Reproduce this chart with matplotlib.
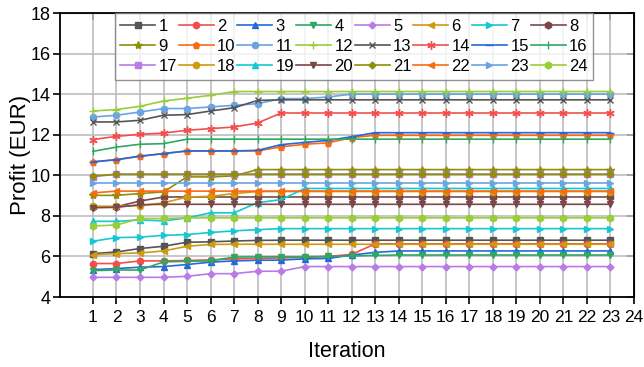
import matplotlib
matplotlib.use("Agg")
import matplotlib.pyplot as plt

plt.rcParams['font.family'] = ['Liberation Sans', 'DejaVu Sans']

iterations = list(range(1, 24))

s1 = [6.14, 6.22, 6.39, 6.5, 6.7, 6.72, 6.76, 6.79] + [6.8] * 15
s2 = [5.65, 5.65, 5.78, 5.78, 5.8, 5.83, 5.88, 5.9, 5.93, 5.95, 6.0, 6.1] + [6.62] * 11
s3 = [5.35, 5.4, 5.47, 5.5, 5.6, 5.72, 5.78, 5.81, 5.82, 5.88, 5.9, 6.07, 6.2] + [6.27] * 10
s4 = [5.3, 5.33, 5.33, 5.73, 5.76, 5.78, 5.97, 5.98, 5.98, 5.98, 6.0, 6.02, 6.05] + [6.07] * 10
s5 = [4.97, 4.97, 4.97, 4.97, 5.02, 5.15, 5.15, 5.27, 5.27] + [5.5] * 14
s6 = [6.09, 6.14, 6.17, 6.27, 6.5, 6.59] + [6.6] * 17
s7 = [6.75, 6.93, 6.95, 7.04, 7.08, 7.18, 7.26, 7.32] + [7.37] * 15
s8 = [8.45, 8.45, 8.73, 8.93] + [8.93] * 19
s9 = [9.01, 9.01, 9.1, 9.18, 9.92, 9.92, 9.97] + [10.28] * 16
s10 = [10.66, 10.77, 10.94, 11.07, 11.2, 11.2, 11.2, 11.2, 11.4, 11.53, 11.6, 11.86] + [11.97] * 11
s11 = [12.87, 12.96, 13.12, 13.29, 13.29, 13.37, 13.45, 13.53, 13.78, 13.78, 13.86] + [14.0] * 12
s12 = [13.17, 13.24, 13.4, 13.66, 13.8, 13.94] + [14.13] * 17
s13 = [12.63, 12.63, 12.71, 12.96, 12.99, 13.17, 13.33, 13.69] + [13.72] * 15
s14 = [11.76, 11.92, 12.02, 12.08, 12.22, 12.3, 12.38, 12.58] + [13.07] * 15
s15 = [10.66, 10.77, 10.94, 11.07, 11.2, 11.2, 11.2, 11.23, 11.51, 11.62, 11.72, 11.9] + [12.1] * 11
s16 = [11.18, 11.39, 11.53, 11.56] + [11.78] * 19
s17 = [9.93] + [10.05] * 22
s18 = [8.47, 8.47, 8.5, 8.64, 8.93, 8.96, 9.1] + [9.2] * 16
s19 = [7.73, 7.73, 7.8, 7.75, 7.9, 8.15, 8.15, 8.65, 8.8] + [9.35] * 14
s20 = [8.4, 8.42, 8.55] + [8.57] * 20
s21 = [9.97] + [10.05] * 22
s22 = [9.13] + [9.22] * 22
s23 = [9.6] * 23
s24 = [7.5, 7.55, 7.87, 7.87] + [7.9] * 19

series = [s1, s2, s3, s4, s5, s6, s7, s8, s9, s10, s11, s12,
          s13, s14, s15, s16, s17, s18, s19, s20, s21, s22, s23, s24]
labels = [str(i) for i in range(1, 25)]
x_ticks = list(range(1, 25))
y_ticks = list(range(4, 19, 2))

colors = ['#555555', '#F24E4E', '#2469DA', '#2FA862', '#B97BE8', '#CF9A0E',
          '#14C8D4', '#7A4848', '#8F8F0A', '#FA6A12', '#6BA4E0', '#9ACD3C']
markers = ['s', 'o', '^', 'v', 'D', '<', '>', 'h', '*', 'p', 'o', '+',
           'x', (6, 2, 0), '_', '|']
msizes = {'s': 4, 'o': 4.5, '^': 5, 'v': 5, 'D': 3.5, '<': 5, '>': 5, 'h': 5,
          '*': 6, 'p': 5, '+': 6, 'x': 5, '_': 6, '|': 6}

fig = plt.figure(figsize=(6.44, 3.67), dpi=100)
ax = fig.add_axes([60 / 644, 1 - 297 / 367, 574 / 644, 284 / 367])

handles = []
for i, (ys, lab) in enumerate(zip(series, labels)):
    c = colors[i % 12]
    m = markers[i % 16]
    ms = msizes.get(m, 6) if isinstance(m, str) else 6
    h, = ax.plot(iterations, ys, color=c, marker=m, markersize=ms, lw=1.2,
                 markeredgewidth=1.0, label=lab, zorder=3)
    handles.append(h)

ax.set_xlim(-0.4, 24)
ax.set_ylim(4, 18)
ax.set_xticks(x_ticks)
ax.set_yticks(y_ticks)
ax.grid(True, color='#bdbdbd', lw=1.2, zorder=0)
ax.set_axisbelow(True)
for sp in ax.spines.values():
    sp.set_linewidth(1.3)
ax.tick_params(axis='both', which='major', labelsize=13, width=1.2, length=5,
               direction='out')
ax.tick_params(axis='x', pad=4, labelsize=12.5)
ax.tick_params(axis='y', pad=2)

top = ax.secondary_xaxis('top')
top.set_xticks(x_ticks)
top.tick_params(direction='in', labeltop=False, width=1.2, length=5)
right = ax.secondary_yaxis('right')
right.set_yticks(y_ticks)
right.tick_params(direction='in', labelright=False, width=1.2, length=5)

ax.set_xlabel('Iteration', fontsize=15.5, labelpad=12)
ax.set_ylabel('Profit (EUR)', fontsize=16)
ax.yaxis.set_label_coords(-0.05, 0.5)

ncol = 8
nrow = 3
order = [c + ncol * r for c in range(ncol) for r in range(nrow)]
leg = ax.legend([handles[k] for k in order], [labels[k] for k in order],
                ncol=ncol, loc='upper left', bbox_to_anchor=(0.095, 1.0),
                borderaxespad=0, fontsize=12, frameon=True, fancybox=False,
                handlelength=2.1, handletextpad=0.2, columnspacing=0.1,
                labelspacing=0.3, borderpad=0.35)
leg.get_frame().set_edgecolor('#777777')
leg.get_frame().set_linewidth(1.0)
leg.set_zorder(5)

fig.savefig('out.png', dpi=100)
